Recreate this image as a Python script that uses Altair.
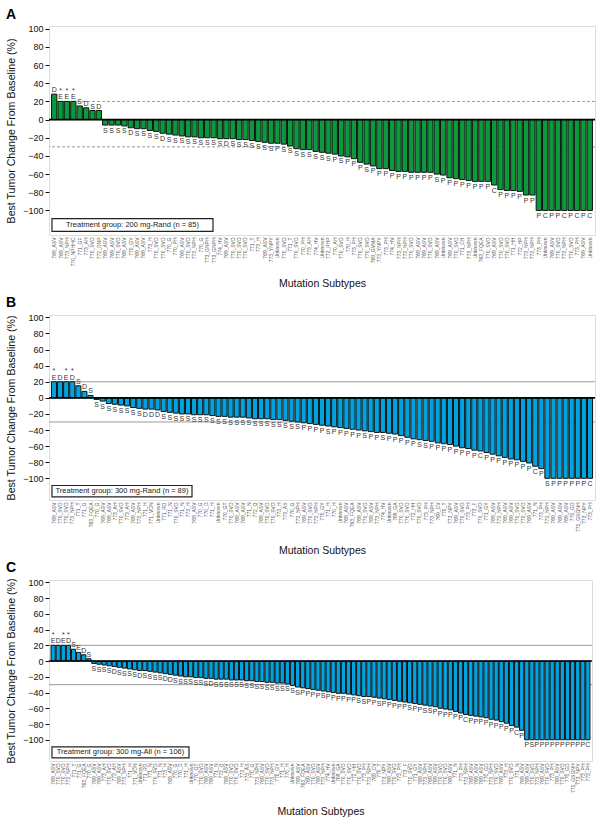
import altair as alt
import pandas as pd

# ---------------- data ----------------
A_val = [28, 20, 20, 20, 15, 13, 10, 10,
         -6, -6, -6, -7, -9, -10, -10, -12, -13, -15, -16, -17,
         -18, -19, -19, -20, -20, -20, -21, -21, -21, -22,
         -22, -23, -24, -25, -26, -26, -27, -29,
         -32, -33, -33, -35, -36, -37, -38, -40, -41, -43,
         -47, -49, -51, -54, -54, -56, -57, -57, -58, -58, -58, -58,
         -60, -61, -64, -65, -66, -67, -68, -68, -68, -72,
         -77, -78, -78, -79, -83, -83,
         -100, -100, -100, -100, -100, -100, -100, -100, -100]
A_resp = list("DEEESDSD" "SSSSDSSSSDSSSSSSSSSDSSSSSSSPSS"
              "SSSSSSPSPPPSPPPPPPPPPPSPPPPPPPPCPPPPPPPCPPCPCPC")
A_star = [2, 3, 4]
A_sub = ["769_ASV", "769_ASV", "773_NPH", "770_NPHHC", "771_GF", "773_AH", "770_SVD", "772_DNP", "769_ASV", "769_ASV",
         "770_SVD", "769_ASV", "770_GY", "769_ASV", "769_ASV", "773_H", "770_SVD", "770_SVD", "770_G", "770_PH",
         "769_ASV", "770_SVD", "773_NPH", "770_G", "773_GNPH", "773_GNPH", "774_HV", "769_ASV", "770_SVD", "770_SVD",
         "770_SVD", "771_T", "773_H", "769_ASV", "773_YNPY", "Unknown", "770_SVD", "771_T", "770_SVD", "770_PH",
         "773_AH", "774_HV", "Unknown", "772_PHP", "770_AH", "770_SVD", "770_H", "773_PH", "770_SVD", "770_SVD",
         "769_GVMA", "773_YNPY", "773_PH", "774_HV", "773_NPH", "773_NPH", "770_SVD", "769_ASV", "769_ASV", "770_SVD",
         "769_ASV", "Unknown", "769_ASV", "770_SVD", "771_CH", "773_NPH", "Unknown", "763_FQEA", "770_SVD", "769_ASV",
         "770_SVD", "770_SVD", "771_HH", "772_HP", "773_NPH", "773_NPH", "773_PH", "Unknown", "769_ASV", "770_SVD",
         "773_NPH", "770_SVD", "773_PH", "769_ASV", "Unknown"]

B_val = [20, 20, 20, 20, 15, 8, 3, -2,
         -4, -7, -8, -9, -10, -12, -13, -14, -14, -15, -17, -18,
         -19, -20, -20, -21, -21, -21, -22, -23, -23, -24,
         -24, -24, -25, -26, -26, -26, -27, -27, -28, -29,
         -30, -31, -32, -33, -34, -35, -36, -37, -38, -39,
         -40, -41, -42, -43, -43, -44, -45, -47, -49, -51,
         -52, -53, -54, -56, -57, -58, -60, -62, -63, -65,
         -66, -68, -70, -72, -74, -76, -77, -79, -81, -85,
         -88, -100, -100, -100, -100, -100, -100, -100, -100]
B_resp = list("EDEDSDSS" "SSSSSSSDDDSSSSSSSSSSSSSSSSSSSSSS"
              "SPPPPSPPPPPSPPSPPPPPSSPPPPPPPPCPPPPPPPPCPSPPPPPPC")
B_star = [1, 3, 4]
B_sub = ["769_ASV", "770_SVD", "770_SVD", "773_NPH", "771_T", "771_G", "763_FQEA", "770_G", "769_ASV", "769_ASV",
         "773_AH", "770_SVD", "773_AH", "769_ASV", "773_NPH", "771_H", "771_VDN", "Unknown", "771_RD", "771_N",
         "770_SVD", "771_N", "773_H", "769_ASV", "770_G", "770_D", "771_H", "Unknown", "770_GT", "770_SVD",
         "769_ASV", "769_ASV", "771_N", "772_Q", "769_ASV", "770_SVD", "770_SVD", "773_H", "773_AS", "770_G",
         "773_NPH", "769_ASV", "770_SVD", "773_NPH", "770_GY", "771_H", "770_H", "Unknown", "769_ASV", "763_FQEA",
         "769_ASV", "770_SVD", "769_ASV", "773_NPH", "774_HV", "Unknown", "769_GA", "770_SVD", "770_SVD", "772_HH",
         "770_SVD", "773_PH", "773_NPH", "769_CV", "770_T", "773_NPY", "769_ASV", "770_SVD", "773_PH", "773_F",
         "770_SVD", "771_GY", "769_ASV", "773_NPH", "769_ASV", "769_ASV", "770_SVD", "770_SVD", "769_ASV", "771_N",
         "773_PH", "773_NPH", "769_ASV", "769_ASV", "769_ASV", "770_GD", "771_GSGNH", "773_NPY", "773_PH"]

C_val = [20, 20, 20, 20, 15, 11, 8, 3,
         -3, -4, -5, -6, -7, -8, -9, -10, -11, -12, -12, -13,
         -14, -15, -16, -17, -18, -19, -20, -20, -21, -21,
         -22, -22, -23, -23, -23, -24, -24, -24, -25, -25,
         -26, -26, -27, -27, -28, -28, -29, -31,
         -33, -34, -35, -36, -37, -38, -39, -40, -41, -41, -42, -43,
         -44, -45, -45, -46, -47, -48, -49, -50, -51, -52,
         -53, -54, -55, -56, -57, -58, -60, -61, -62, -64,
         -66, -68, -69, -70, -71, -72, -74, -75, -77, -79, -82, -84, -88,
         -100, -100, -100, -100, -100, -100, -100, -100, -100, -100, -100, -100, -100]
C_resp = list("EDEDSEDS" "SSSSDSSSSDSSSSDDSSSSSSSDSSSSSSSSSSSSSSSS"
              "SPPPPSPPPPPPSSPPSPPPPPSPPSSPPPPPPCPPPPPPPPPCPPSPPPPPPPPPPC")
C_star = [1, 3, 4]
C_sub = ["769_ASV", "770_SVD", "770_SVD", "773_NPH", "771_T", "771_G", "763_FQEA", "770_G", "769_ASV", "769_ASV",
         "773_AH", "770_SVD", "773_AH", "769_ASV", "773_NPH", "771_H", "771_VDN", "Unknown", "771_RD", "771_N",
         "770_SVD", "771_N", "773_H", "769_ASV", "770_G", "770_D", "771_H", "Unknown", "770_GT", "770_SVD",
         "769_ASV", "769_ASV", "771_N", "772_Q", "769_ASV", "770_SVD", "770_SVD", "773_H", "773_AS", "770_G",
         "773_NPH", "769_ASV", "770_SVD", "773_NPH", "770_GY", "771_H", "770_H", "Unknown", "769_ASV", "763_FQEA",
         "769_ASV", "770_SVD", "769_ASV", "773_NPH", "774_HV", "Unknown", "769_GA", "770_SVD", "770_SVD", "772_HH",
         "770_SVD", "773_PH", "773_NPH", "769_CV", "770_T", "773_NPY", "769_ASV", "770_SVD", "773_PH", "773_F",
         "770_SVD", "771_GY", "769_ASV", "773_NPH", "769_ASV", "769_ASV", "770_SVD", "770_SVD", "769_ASV", "771_N",
         "773_PH", "773_NPH", "769_ASV", "769_ASV", "769_ASV", "770_GD", "773_NPH", "770_SVD", "769_ASV", "773_H",
         "770_SVD", "771_N", "769_ASV", "769_ASV", "770_SVD", "773_NPH", "769_ASV", "770_SVD", "773_PH", "769_ASV",
         "770_SVD", "770_GD", "771_GSGNH", "773_NPY", "773_PH", "773_PH"]

REF_LINES = [20, -30]
Y_TICKS = [-100, -80, -60, -40, -20, 0, 20, 40, 60, 80, 100]
NOTE_TOP, NOTE_MID, NOTE_BOTTOM = -109, -116, -123

SANS = "Liberation Sans, Arial, Helvetica, sans-serif"

GREEN = "#0a9a3c"
BLUE = "#00a3df"


def panel(letter, vals, resp, subs, stars, color, note, w, h, dashed, box_w, title_y):
    n = len(vals)
    idx = list(range(1, n + 1))
    df = pd.DataFrame({
        "key": [f"{i:03d}|{s}" for i, s in zip(idx, subs)],
        "value": vals,
        "resp": resp,
        "star": ["*" if i in stars else "" for i in idx],
    })
    yaxis = alt.Axis(values=Y_TICKS, grid=False, domain=False, tickSize=4, tickColor="#111",
                     labelFont=SANS, labelFontSize=9, labelColor="#111", labelPadding=2,
                     title="Best Tumor Change From Baseline (%)", titleFont=SANS, titleFontSize=10.6,
                     titleFontWeight="normal", titleColor="#111", titleX=-35, titleBaseline="alphabetic")
    yscale = alt.Scale(domain=[-127, 103], nice=False, zero=False)

    def Y(field):
        return alt.Y(field, type="quantitative", scale=yscale, axis=yaxis)

    X = alt.X("key:N", sort="ascending",
              scale=alt.Scale(paddingInner=0.17, paddingOuter=0.4),
              axis=alt.Axis(title="Mutation Subtypes", labelAngle=-90, ticks=False, domain=False,
                            labelExpr="split(datum.value, '|')[1]", labelFont=SANS, labelFontSize=5,
                            labelColor="#555", labelPadding=2, labelLimit=0,
                            titleFont=SANS, titleFontSize=10.5, titleFontWeight="normal",
                            titleColor="#111", titleY=title_y, titleBaseline="top"))

    base = alt.Chart(df)
    refdf = pd.DataFrame({"ref": REF_LINES})
    rule_kw = dict(color="#9a9a9a", strokeWidth=1)
    if dashed:
        rule_kw["strokeDash"] = [3, 2]
    refs = alt.Chart(refdf).mark_rule(**rule_kw).encode(y=Y("ref"))
    bars = base.mark_bar(color=color, stroke="#111", strokeWidth=1).encode(x=X, y=Y("value"))
    zero = alt.Chart(pd.DataFrame({"zero": [0]})).mark_rule(color="#000", strokeWidth=1.6).encode(y=Y("zero"))
    tkw = dict(font=SANS, fontSize=7, color="#333")
    pos = base.transform_filter("datum.value >= 0").mark_text(baseline="bottom", dy=-1, **tkw).encode(
        x=X, y=Y("value"), text="resp:N")
    neg = base.transform_filter("datum.value < 0").mark_text(baseline="top", dy=1.5, **tkw).encode(
        x=X, y=Y("value"), text="resp:N")
    st = base.transform_filter("datum.star != ''").mark_text(baseline="bottom", dy=-7.5, **tkw).encode(
        x=X, y=Y("value"), text="star:N")
    notedf = pd.DataFrame({"top": [NOTE_TOP], "bottom": [NOTE_BOTTOM], "mid": [NOTE_MID], "note": [note]})
    box = alt.Chart(notedf).mark_rect(fill="white", stroke="#222", strokeWidth=1.2).encode(
        x=alt.value(3), x2=alt.value(3 + box_w), y=Y("top"), y2="bottom:Q")
    boxtxt = alt.Chart(notedf).mark_text(font=SANS, fontSize=7.5, color="#222", baseline="middle").encode(
        x=alt.value(3 + box_w / 2), y=Y("mid"), text="note:N")
    return alt.layer(refs, bars, zero, pos, neg, st, box, boxtxt).properties(
        width=w, height=h,
        title=alt.TitleParams(letter, anchor="start", frame="bounds", fontSize=14, fontWeight="bold",
                              font=SANS, color="#000", offset=3))


A = panel("A", A_val, A_resp, A_sub, A_star, GREEN, "Treatment group: 200 mg-Rand (n = 85)", 546, 209, True, 161, 43)
B = panel("B", B_val, B_resp, B_sub, B_star, BLUE, "Treatment group: 300 mg-Rand (n = 89)", 546, 185, False, 140, 45)
C = panel("C", C_val, C_resp, C_sub, C_star, BLUE, "Treatment group: 300 mg-All (n = 106)", 543, 181, False, 137, 45)

chart = alt.vconcat(A, B, C, spacing=80, bounds="flush").properties(
    padding={"left": 5, "top": 7, "right": 0, "bottom": 0}
).configure_view(stroke="#111", strokeWidth=1.4).configure(background="white")

chart.save("out.html", embed_options={"renderer": "svg", "actions": False})
